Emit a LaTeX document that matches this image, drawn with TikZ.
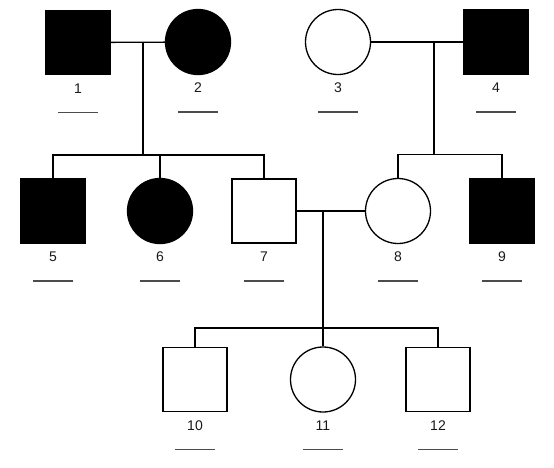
\documentclass[tikz,border=0pt]{standalone}
\usepackage{fontspec}
\setmainfont{Liberation Sans}
\tikzset{
    male/.style={draw,line width=1.3pt,minimum size=64pt,inner sep=0pt},
    female/.style={draw,circle,line width=1.3pt,minimum size=65pt,inner sep=0pt},
    affected/.style={fill=black},
    lbl/.style={inner sep=0pt,text=black!90,font=\fontsize{14}{15}\selectfont},
    uline/.style={line width=1.4pt,black!70},
    link/.style={line width=1.3pt}
}
\begin{document}
\begin{tikzpicture}[x=1pt,y=-1pt]
                \useasboundingbox (0,0) rectangle (554,467);
                %% generation I
                \node[male,affected] (p1) at (78,42.5) {};
                \node[female,affected] (p2) at (198,42) {};
                \node[female] (p3) at (338,42) {};
                \node[male,affected] (p4) at (496,42) {};
                %% generation II
                \node[male,affected] (p5) at (53,211) {};
                \node[female,affected] (p6) at (160,211) {};
                \node[male] (p7) at (264,211) {};
                \node[female] (p8) at (398,211) {};
                \node[male,affected] (p9) at (502,211) {};
                %% generation III
                \node[male] (p10) at (195,379.5) {};
                \node[female] (p11) at (323,379.5) {};
                \node[male] (p12) at (438,379.5) {};
                %% numbers
                \foreach \n in {1,...,12}
                    \node[lbl] (t\n) at ([yshift=-46pt]p\n.center) {\n};
                \foreach \n in {1,...,12}
                    \draw[uline] ([yshift=-24pt]t\n.center) ++(-20pt,0) -- ++(40pt,0);
                %% couple 1 x 2
                \coordinate (m12) at (143,42.5);
                \coordinate (s12) at (143,155);
                \draw[link] (p1) -- (p2);
                \draw[link] (m12) -- (s12);
                \draw[link] (p5.north) |- (s12) -| (p7.north);
                \draw[link] (p6.north) -- (p6.north |- s12);
                %% couple 3 x 4
                \coordinate (m34) at (434,42);
                \coordinate (s34) at (434,154.5);
                \draw[link] (p3) -- (p4);
                \draw[link] (m34) -- (s34);
                \draw[link] (p8.north) |- (s34) -| (p9.north);
                %% couple 7 x 8
                \coordinate (m78) at (323,211);
                \coordinate (s78) at (323,328);
                \draw[link] (p7) -- (p8);
                \draw[link] (m78) -- (p11.north);
                \draw[link] (p10.north) |- (s78) -| (p12.north);
            \end{tikzpicture}
\end{document}
